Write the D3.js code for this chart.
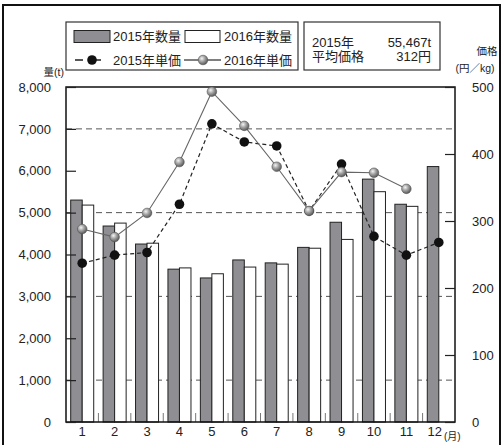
<!DOCTYPE html>
<html>
<head>
<meta charset="utf-8">
<script src="https://cdn.jsdelivr.net/npm/d3@7"></script>
<style>
  html, body { margin: 0; padding: 0; background: #fff; }
  svg { display: block; }
  text { font-family: "Liberation Sans", Arial, "Noto Sans CJK JP", sans-serif; fill: #222; }
</style>
</head>
<body>
<svg id="chart" width="504" height="445"></svg>
<script>
// Monthly volume (t) and unit price (円/kg)
const months = [1, 2, 3, 4, 5, 6, 7, 8, 9, 10, 11, 12];
const qty2015 = [5300, 4680, 4250, 3650, 3440, 3870, 3800, 4170, 4770, 5800, 5200, 6100];
const qty2016 = [5180, 4750, 4270, 3680, 3540, 3700, 3770, 4150, 4360, 5500, 5150, null];
const price2015 = [237, 249, 253, 325, 445, 418, 412, 315, 385, 277, 249, 268];
const price2016 = [288, 276, 312, 388, 493, 442, 381, 315, 373, 372, 348, null];
const qtyTicks = [0, 1000, 2000, 3000, 4000, 5000, 6000, 7000, 8000];
const priceTicks = [0, 100, 200, 300, 400, 500];
const gridValues = [1000, 3000, 5000, 7000];
const legendLabels = ["2015年数量", "2016年数量", "2015年単価", "2016年単価"];
const summaryLabels = ["2015年", "55,467t", "平均価格", "312円"];

const svg = d3.select("#chart");
const plot = { left: 66, right: 455, top: 87, bottom: 422 };

const x = d3.scaleBand().domain(months).range([plot.left, plot.right]).padding(0);
const yQ = d3.scaleLinear().domain([0, 8000]).range([plot.bottom, plot.top]);
const yP = d3.scaleLinear().domain([0, 500]).range([plot.bottom, plot.top]);
const bw = x.bandwidth() * 0.355;
const cx = m => x(m) + x.bandwidth() / 2;

// sphere shading for the 2016 markers
const defs = svg.append("defs");
const grad = defs.append("radialGradient").attr("id", "ball")
  .attr("cx", "38%").attr("cy", "35%").attr("r", "65%");
grad.append("stop").attr("offset", "0%").attr("stop-color", "#f4f4f4");
grad.append("stop").attr("offset", "45%").attr("stop-color", "#a8a8a8");
grad.append("stop").attr("offset", "100%").attr("stop-color", "#5a5a5a");

// outer frame
svg.append("rect").attr("x", 3).attr("y", 5).attr("width", 497).attr("height", 446)
  .attr("fill", "none").attr("stroke", "#111").attr("stroke-width", 2);

// dashed gridlines
svg.append("g").selectAll("line").data(gridValues).join("line")
  .attr("x1", plot.left).attr("x2", plot.right)
  .attr("y1", d => yQ(d)).attr("y2", d => yQ(d))
  .attr("stroke", "#555").attr("stroke-width", 1).attr("stroke-dasharray", "6,4");

// short separators between months at the baseline
svg.append("g").selectAll("line").data(months.slice(1)).join("line")
  .attr("x1", d => x(d)).attr("x2", d => x(d))
  .attr("y1", plot.bottom).attr("y2", plot.bottom - 9)
  .attr("stroke", "#777").attr("stroke-width", 1);

// bars
const bars = svg.append("g");
bars.selectAll("rect.b15").data(months).join("rect").attr("class", "b15")
  .attr("x", d => cx(d) - bw).attr("width", bw)
  .attr("y", (d, i) => yQ(qty2015[i])).attr("height", (d, i) => plot.bottom - yQ(qty2015[i]))
  .attr("fill", "#8f8f93").attr("stroke", "#222").attr("stroke-width", 1);
bars.selectAll("rect.b16").data(months.filter((d, i) => qty2016[i] != null)).join("rect").attr("class", "b16")
  .attr("x", d => cx(d)).attr("width", bw)
  .attr("y", d => yQ(qty2016[d - 1])).attr("height", d => plot.bottom - yQ(qty2016[d - 1]))
  .attr("fill", "#fff").attr("stroke", "#222").attr("stroke-width", 1);

// plot frame
svg.append("rect").attr("x", plot.left).attr("y", plot.top)
  .attr("width", plot.right - plot.left).attr("height", plot.bottom - plot.top)
  .attr("fill", "none").attr("stroke", "#111").attr("stroke-width", 1.5);

// left axis
const axL = svg.append("g").attr("transform", `translate(${plot.left},0)`)
  .call(d3.axisLeft(yQ).tickValues(qtyTicks).tickFormat(d3.format(",")).tickSize(-10).tickPadding(15));
axL.select(".domain").remove();
axL.selectAll(".tick line").attr("stroke", "#222").attr("stroke-width", 1.2);
axL.selectAll("text").style("font-size", "13px").attr("fill", "#222");

// right axis
const axR = svg.append("g").attr("transform", `translate(${plot.right},0)`)
  .call(d3.axisRight(yP).tickValues(priceTicks).tickSize(-10).tickPadding(17));
axR.select(".domain").remove();
axR.selectAll(".tick line").attr("stroke", "#222").attr("stroke-width", 1.2);
axR.selectAll("text").style("font-size", "13px").attr("fill", "#222");

// bottom axis labels
const axB = svg.append("g").attr("transform", `translate(0,${plot.bottom})`)
  .call(d3.axisBottom(x).tickSize(0).tickPadding(5));
axB.select(".domain").remove();
axB.selectAll("text").style("font-size", "13px").attr("fill", "#222")
  .attr("dx", d => d === 12 ? -4 : 0);
svg.append("text").attr("x", 444).attr("y", 440).style("font-size", "10px").text("(月)");

// price lines
const priceLine = d3.line().defined(d => d[1] != null).x(d => cx(d[0])).y(d => yP(d[1]));
svg.append("path").datum(months.map((m, i) => [m, price2015[i]]))
  .attr("d", priceLine).attr("fill", "none").attr("stroke", "#222")
  .attr("stroke-width", 1.2).attr("stroke-dasharray", "4,3");
svg.append("path").datum(months.map((m, i) => [m, price2016[i]]))
  .attr("d", priceLine).attr("fill", "none").attr("stroke", "#666").attr("stroke-width", 1.1);

svg.append("g").selectAll("circle").data(months).join("circle")
  .attr("cx", d => cx(d)).attr("cy", (d, i) => yP(price2015[i])).attr("r", 4.8)
  .attr("fill", "#111");
svg.append("g").selectAll("circle").data(months.filter((d, i) => price2016[i] != null)).join("circle")
  .attr("cx", d => cx(d)).attr("cy", d => yP(price2016[d - 1])).attr("r", 4.8)
  .attr("fill", "url(#ball)").attr("stroke", "#555").attr("stroke-width", 0.6);

// axis titles
svg.append("text").attr("x", 64).attr("y", 76).attr("text-anchor", "end")
  .style("font-size", "10.5px").text("量(t)");
svg.append("text").attr("x", 487).attr("y", 55).attr("text-anchor", "middle")
  .style("font-size", "10.5px").text("価格");
svg.append("text").attr("x", 475).attr("y", 72).attr("text-anchor", "middle")
  .style("font-size", "10.5px").text("(円／kg)");

// legend box
const lg = svg.append("g");
lg.append("rect").attr("x", 66).attr("y", 22).attr("width", 232).attr("height", 48)
  .attr("fill", "#fff").attr("stroke", "#333").attr("stroke-width", 1.2);
lg.append("rect").attr("x", 74).attr("y", 30.5).attr("width", 36).attr("height", 12)
  .attr("fill", "#8f8f93").attr("stroke", "#222");
lg.append("rect").attr("x", 185).attr("y", 30.5).attr("width", 35).attr("height", 12)
  .attr("fill", "#fff").attr("stroke", "#222");
lg.append("line").attr("x1", 75).attr("x2", 108).attr("y1", 60).attr("y2", 60)
  .attr("stroke", "#222").attr("stroke-width", 1.4).attr("stroke-dasharray", "8,10");
lg.append("circle").attr("cx", 92).attr("cy", 60).attr("r", 4.8).attr("fill", "#111");
lg.append("line").attr("x1", 184).attr("x2", 221).attr("y1", 60).attr("y2", 60)
  .attr("stroke", "#555").attr("stroke-width", 1.4);
lg.append("circle").attr("cx", 203).attr("cy", 60).attr("r", 4.8)
  .attr("fill", "url(#ball)").attr("stroke", "#555").attr("stroke-width", 0.6);
const legPos = [[113, 41], [224, 41], [113, 65], [224, 65]];
lg.selectAll("text").data(legendLabels).join("text")
  .attr("x", (d, i) => legPos[i][0]).attr("y", (d, i) => legPos[i][1])
  .style("font-size", "13px").text(d => d);

// summary box
const sb = svg.append("g");
sb.append("rect").attr("x", 304).attr("y", 22).attr("width", 136).attr("height", 48)
  .attr("fill", "#fff").attr("stroke", "#333").attr("stroke-width", 1.2);
const sumPos = [[312, 47, "start"], [431, 47, "end"], [312, 61, "start"], [431, 61, "end"]];
sb.selectAll("text").data(summaryLabels).join("text")
  .attr("x", (d, i) => sumPos[i][0]).attr("y", (d, i) => sumPos[i][1])
  .attr("text-anchor", (d, i) => sumPos[i][2])
  .style("font-size", "13px").text(d => d);
</script>
</body>
</html>
